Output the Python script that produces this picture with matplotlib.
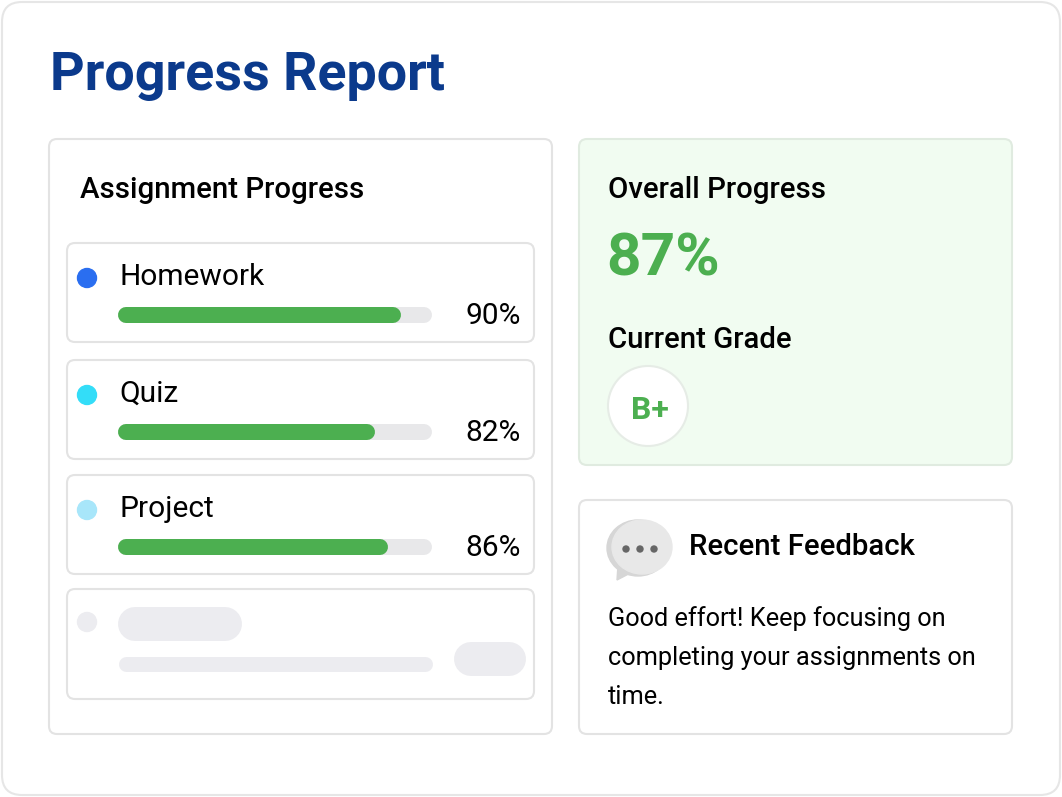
import numpy as np
import matplotlib.pyplot as plt
from matplotlib.patches import FancyBboxPatch, Circle, Ellipse, Polygon

plt.rcParams['font.family'] = ['Roboto', 'DejaVu Sans']

# Data
assignments = ["Homework", "Quiz", "Project"]
progress = [90, 82, 86]
dot_colors = ["#2a6ef0", "#33ddf8", "#a8e6fa"]
overall = 87
grade = "B+"
feedback_lines = ["Good effort! Keep focusing on",
                  "completing your assignments on",
                  "time."]

GREEN = "#4caf50"
INK = "#000000"
W, H = 1062, 797

fig = plt.figure(figsize=(W / 100, H / 100), dpi=100)
ax = fig.add_axes([0, 0, 1, 1])
ax.set_xlim(0, W)
ax.set_ylim(H, 0)
ax.axis('off')


def card(x0, y0, x1, y1, r=8, fc="white", ec="#e3e3e3", lw=1.5, z=1):
    ax.add_patch(FancyBboxPatch((x0 + r, y0 + r), x1 - x0 - 2 * r, y1 - y0 - 2 * r,
                                boxstyle=f"round,pad={r}", fc=fc, ec=ec, lw=lw, zorder=z))


def pill(x0, x1, y, h, color, z=3):
    ax.plot([x0 + h / 2, x1 - h / 2], [y, y], color=color, lw=h * 0.72,
            solid_capstyle='round', zorder=z)


# Outer card
card(2, 2, 1060, 795, r=20, ec="#e6e6e6", z=0)
ax.text(50, 75, "Progress Report", fontsize=38.8, fontweight='bold', color="#0b3a8c",
        va='center', ha='left')

# Left panel
card(49, 139, 552, 734, z=1)
ax.text(80, 190, "Assignment Progress", fontsize=21.2, fontweight='medium',
        va='center', color=INK)

tops = [243, 360, 475]
for i, (name, val, c) in enumerate(zip(assignments, progress, dot_colors)):
    t = tops[i]
    card(67, t, 534, t + 99, z=2)
    ax.add_patch(Circle((87, t + 35), 9.5, color=c, zorder=3))
    ax.text(119, t + 34, name, fontsize=21.5, va='center', color=INK, zorder=3)
    pill(118, 432, t + 72, 16, "#e8e8ea")
    pill(118, 118 + 314 * val / 100, t + 72, 16, GREEN, z=4)
    ax.text(521, t + 73, f"{val}%", fontsize=21.5, va='center', ha='right',
            color=INK, zorder=3)

# Placeholder card
card(67, 589, 534, 699, z=2)
ax.add_patch(Circle((87, 622), 9.5, color="#ececf0", zorder=3))
pill(118, 242, 624, 34, "#ececf0")
pill(118, 432, 664, 15, "#ececf0")
pill(454, 526, 659, 34, "#ececf0")

# Overall progress panel
card(579, 139, 1012, 465, fc="#f1fcf1", ec="#e0ebe0", z=1)
ax.text(608, 190, "Overall Progress", fontsize=21.2, fontweight='medium',
        va='center', color=INK)
ax.text(606, 260, f"{overall}%", fontsize=43.5, fontweight='bold', va='center', color=GREEN)
ax.text(608, 340, "Current Grade", fontsize=21.2, fontweight='medium',
        va='center', color=INK)
ax.add_patch(Circle((648, 406), 40, fc="white", ec="#e6ece6", lw=1.5, zorder=3))
ax.text(650, 410, grade, fontsize=23, fontweight='bold', ha='center', va='center',
        color=GREEN, zorder=4)

# Feedback panel
card(579, 500, 1012, 734, z=1)
ax.add_patch(Polygon([[618, 565], [617, 580], [640, 568]], color="#d6d6d6", zorder=3))
ax.add_patch(Ellipse((638, 548), 62, 56, color="#d6d6d6", zorder=3))
ax.add_patch(Ellipse((642, 547), 60, 54, color="#e8e8e8", zorder=4))
for dx in (626, 640, 654):
    ax.add_patch(Circle((dx, 549), 3, color="#666666", zorder=5))
ax.text(689, 547, "Recent Feedback", fontsize=21.2, fontweight='medium',
        va='center', color=INK)
for k, line in enumerate(feedback_lines):
    ax.text(608, 619 + k * 39, line, fontsize=18.3, va='center', color=INK)

fig.savefig("out.png", dpi=100, facecolor="white")
